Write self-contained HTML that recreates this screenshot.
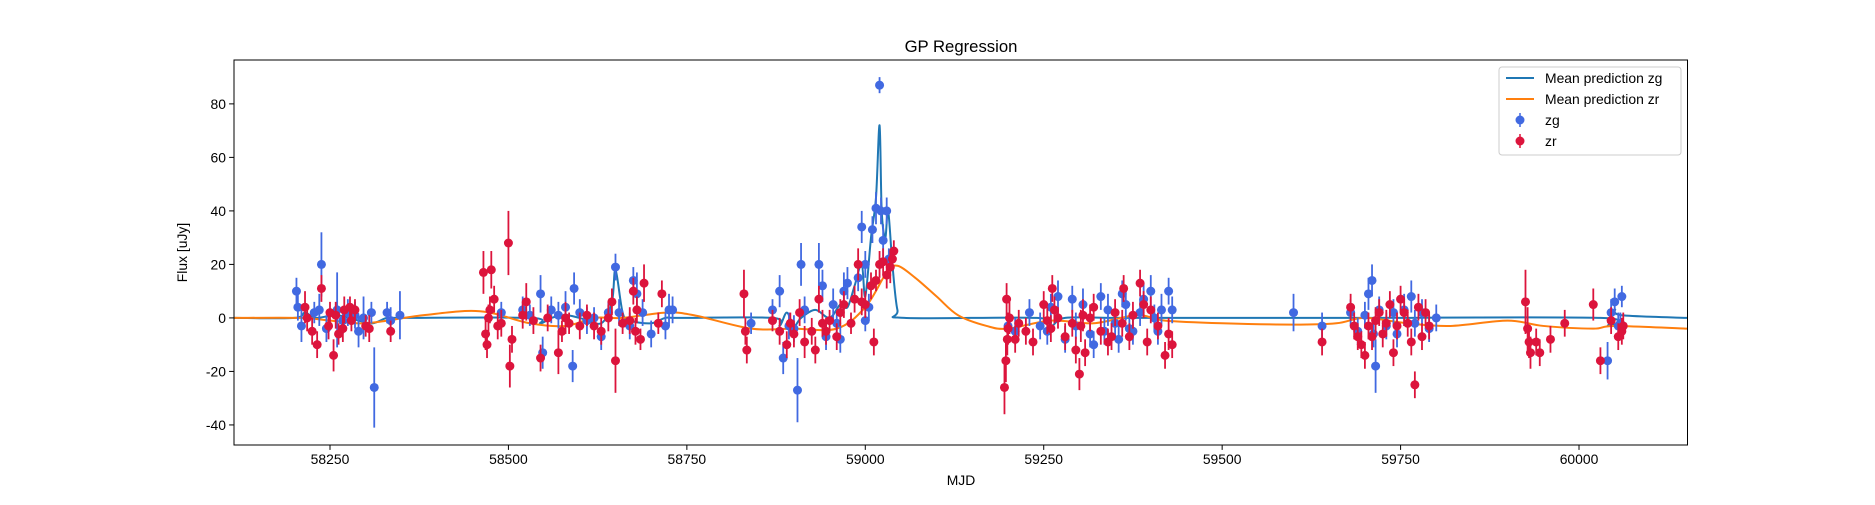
<!DOCTYPE html>
<html><head><meta charset="utf-8"><style>
body{margin:0;background:#fff}
svg text{font-family:"Liberation Sans","DejaVu Sans",sans-serif;fill:#000}
</style></head><body>
<svg id="chart" width="1875" height="500" viewBox="0 0 1875 500" xmlns="http://www.w3.org/2000/svg">
<rect width="1875" height="500" fill="#fff"/>
<text x="961" y="52" font-size="16.7" text-anchor="middle">GP Regression</text>
<g id="plot"></g>
<rect x="234" y="60" width="1453.5" height="385" fill="none" stroke="#000" stroke-width="1"/>
<g id="axes"></g>
<text x="961" y="485" font-size="13.9" text-anchor="middle">MJD</text>
<text transform="translate(187,252.5) rotate(-90)" font-size="13.9" text-anchor="middle">Flux [uJy]</text>
<g>
<rect x="1499" y="67" width="182" height="88" rx="3" fill="#fff" fill-opacity="0.8" stroke="#ccc"/>
<line x1="1506" y1="78" x2="1534" y2="78" stroke="#1f77b4" stroke-width="2"/>
<text x="1545" y="83" font-size="13.9">Mean prediction zg</text>
<line x1="1506" y1="99" x2="1534" y2="99" stroke="#ff7f0e" stroke-width="2"/>
<text x="1545" y="104" font-size="13.9">Mean prediction zr</text>
<line x1="1520" y1="113" x2="1520" y2="127" stroke="#4169e1" stroke-width="1.5"/><circle cx="1520" cy="120" r="4.5" fill="#4169e1"/>
<text x="1545" y="125" font-size="13.9">zg</text>
<line x1="1520" y1="134" x2="1520" y2="148" stroke="#dc143c" stroke-width="1.5"/><circle cx="1520" cy="141" r="4.5" fill="#dc143c"/>
<text x="1545" y="146" font-size="13.9">zr</text>
</g>
</svg>
<script>
const xTicks=[58250,58500,58750,59000,59250,59500,59750,60000];
const yTicks=[-40,-20,0,20,40,60,80];
const zgMjd=[58203,58205,58210,58228,58235,58238,58245,58260,58268,58275,58285,58290,58297,58308,58312,58330,58335,58348,
58490,58520,58530,58545,58548,58560,58570,58580,58590,58592,58600,58610,58620,58630,58640,58650,58655,58670,58675,58680,58688,58700,58720,58725,58730,
58840,58870,58880,58885,58893,58900,58905,58910,58915,58935,58940,58945,58955,58960,58965,58970,58975,58990,58995,59000,59005,59010,59015,59020,59022,59025,59030,59033,59000,
59200,59210,59230,59245,59255,59260,59270,59280,59290,59295,59305,59315,59320,59330,59335,59340,59350,59355,59360,59365,59370,59375,59385,59390,59400,59405,59410,59415,59425,59430,
59600,59640,59680,59690,59700,59705,59710,59712,59715,59720,59730,59740,59745,59755,59765,59770,59780,59790,59800,
60040,60045,60050,60055,60060,60058];
const zgFlux=[10,4,-3,2,3,20,-4,3,-1,2,1,-5,0,2,-26,2,-1,1,
2,3,1,9,-13,3,1,4,-18,11,2,-1,0,-7,2,19,2,-3,14,9,2,-6,-3,3,3,
-2,3,10,-15,-3,-4,-27,20,3,20,12,-7,5,-2,-8,10,13,15,34,20,4,33,41,87,40,29,40,22,-1,
-3,-5,2,-3,-5,4,8,-8,7,-3,5,-6,-10,8,-5,3,-2,-8,9,5,-4,-5,2,7,10,0,-5,3,10,3,
2,-3,2,-5,1,9,14,-6,-18,3,-3,2,-6,3,8,-2,2,-4,0,
-16,2,6,-3,8,-2];
const zgErr=[5,5,6,4,6,12,5,14,5,5,5,6,8,4,15,4,5,9,
4,5,4,7,6,5,5,6,6,6,5,5,4,5,4,5,5,5,5,8,5,5,5,6,5,
4,4,6,6,5,5,12,8,5,8,6,5,6,5,5,7,6,5,6,5,5,5,6,3,5,6,5,4,4,
5,5,5,5,5,5,6,5,5,5,6,5,5,5,5,6,5,5,5,6,5,5,5,6,6,5,5,6,5,5,
7,5,5,5,5,6,6,5,10,5,5,5,5,6,6,5,5,5,5,
7,5,5,5,4,4];
const zrMjd=[58215,58218,58225,58232,58238,58248,58250,58255,58258,58262,58268,58270,58278,58280,58285,58300,58305,58335,
58465,58468,58470,58472,58474,58476,58480,58485,58490,58500,58505,58502,58520,58525,58535,58545,58555,58570,58575,58580,58585,58600,58610,58620,58630,58640,58645,58650,58660,58670,58675,58678,58680,58685,58690,58710,58715,
58830,58832,58834,58870,58880,58890,58895,58900,58908,58915,58925,58930,58935,58940,58945,58950,58960,58965,58970,58980,58985,58990,58995,59000,59008,59012,59015,59020,59025,59030,59035,59040,59038,
59195,59197,59199,59200,59202,59198,59210,59215,59225,59235,59250,59255,59260,59262,59265,59270,59280,59290,59295,59300,59302,59305,59308,59315,59320,59330,59340,59345,59350,59360,59362,59370,59375,59385,59390,59395,59400,59410,59420,59425,59430,
59640,59680,59685,59690,59695,59700,59705,59710,59715,59720,59725,59730,59735,59740,59745,59750,59755,59760,59765,59770,59775,59780,59785,59790,
59925,59928,59930,59932,59940,59945,59960,59980,60020,60030,60045,60055,60060,60062];
const zrFlux=[4,0,-5,-10,11,-3,2,-14,1,-6,-4,3,4,-1,3,-3,-4,-5,
17,-6,-10,0,3,18,7,-3,-2,28,-8,-18,1,6,-1,-15,0,-13,-5,0,-2,-3,1,-3,-5,0,6,-16,-2,-1,10,-5,3,-8,13,-2,9,
9,-5,-12,-1,-5,-10,-2,-6,2,-9,-5,-12,7,-2,-5,-1,-7,2,5,-2,7,20,6,5,12,-9,14,20,21,16,19,25,22,
-26,-16,-8,-4,0,7,-8,-2,-5,-9,5,-1,-4,11,3,0,-7,-2,-12,-21,-3,1,-13,0,4,-5,-9,-7,2,-2,11,-7,1,13,5,-9,3,-3,-14,-6,-10,
-9,4,-3,-7,-10,-14,-3,-7,-1,2,-6,-2,5,-13,-3,7,2,-2,-9,-25,4,-7,2,-3,
6,-4,-9,-13,-9,-13,-8,-2,5,-16,-1,-7,-5,-3];
const zrErr=[6,5,5,5,5,5,4,6,5,4,5,5,4,4,4,4,5,4,
8,6,5,5,5,7,5,5,5,12,5,8,5,7,5,5,5,8,4,6,4,5,4,5,5,5,5,12,4,5,5,5,5,4,7,4,5,
9,5,5,4,5,5,4,5,5,6,5,5,5,5,5,4,5,5,5,4,5,6,5,5,5,5,4,5,5,5,6,4,4,
10,8,6,6,6,6,5,5,5,5,5,5,5,5,5,4,5,5,5,6,6,6,5,5,5,5,5,5,5,5,5,5,5,5,5,5,5,5,5,6,5,
5,5,5,5,5,5,5,5,5,5,5,5,5,5,5,5,5,5,5,5,5,5,5,5,
12,8,6,6,5,5,5,5,6,5,5,5,5,5];
const zgMeanMjd=[58116,58200,58215,58230,58260,58290,58310,58330,58350,58530,58545,58560,58580,58600,58630,58645,58650,58660,58670,58700,58720,58740,58870,58880,58890,58900,58910,58930,58950,58965,58975,58985,58995,59000,59008,59015,59020,59023,59028,59032,59038,59045,59055,59240,59260,59280,59350,59420,59640,59700,60030,60040,60050,60060,60152];
const zgMeanFlux=[0,0,2,0,1,-1,-2,0,0,0,-2,0,1,0,-2,6,18,2,-1,-2,0,0,0,-3,2,-3,0,3,0,5,4,12,20,8,30,45,72,40,30,40,20,3,0,0,-3,0,0,0,0,0,0,-3,3,1,0];
const zrMeanMjd=[58116,58210,58250,58300,58380,58460,58530,58580,58620,58660,58720,58760,58840,58900,58960,59000,59030,59045,59070,59100,59130,59170,59200,59260,59320,59380,59420,59500,59600,59660,59700,59760,59820,59900,59950,60020,60050,60152];
const zrMeanFlux=[0,0,-1,-2,1,2.5,-2,-3,0,0,2,1,-4,-4,-4,4,17,19.5,15,8,1,-3,-4,-1,-2,1,-1,-2,-2.5,-2,0,-2,-3,-1,-3,-4,-3,-4];

const X0=234,X1=1687.5,Y0=445,Y1=60,XMIN=58115.5,XMAX=60152,YMIN=-47.5,YMAX=96.4;
const sx=v=>X0+(v-XMIN)/(XMAX-XMIN)*(X1-X0);
const sy=v=>Y0-(v-YMIN)/(YMAX-YMIN)*(Y0-Y1);
const NS='http://www.w3.org/2000/svg';
const plot=document.getElementById('plot'),axes=document.getElementById('axes');
function mk(t,a,p){const e=document.createElementNS(NS,t);for(const k in a)e.setAttribute(k,a[k]);p.appendChild(e);return e;}
function smooth(xs,ys){let d='M'+sx(xs[0])+','+sy(ys[0]);
 for(let i=0;i<xs.length-1;i++){const p0=[sx(xs[Math.max(i-1,0)]),sy(ys[Math.max(i-1,0)])],p1=[sx(xs[i]),sy(ys[i])],p2=[sx(xs[i+1]),sy(ys[i+1])],p3=[sx(xs[Math.min(i+2,xs.length-1)]),sy(ys[Math.min(i+2,xs.length-1)])];
 const c1=[p1[0]+(p2[0]-p0[0])/6,p1[1]+(p2[1]-p0[1])/6],c2=[p2[0]-(p3[0]-p1[0])/6,p2[1]-(p3[1]-p1[1])/6];
 d+=' C'+c1+' '+c2+' '+p2;}return d;}
xTicks.forEach(t=>{const x=sx(t);
 const l=mk('line',{x1:x,x2:x,y1:Y0,y2:Y0+4.9,stroke:'#000'},axes);
 
 
 const tx=mk('text',{x:x,y:Y0+19,'font-size':'13.9','text-anchor':'middle'},axes);tx.textContent=t;
 
 });
yTicks.forEach(t=>{const y=sy(t);
 const l=mk('line',{x1:X0-4.9,x2:X0,y1:y,y2:y,stroke:'#000'},axes);
 
 
 const tx=mk('text',{x:X0-8,y:y+5,'font-size':'13.9','text-anchor':'end'},axes);tx.textContent=t;
 
 });
const lg=mk('path',{d:smooth(zgMeanMjd,zgMeanFlux),fill:'none',stroke:'#1f77b4','stroke-width':2},plot);


const lr=mk('path',{d:smooth(zrMeanMjd,zrMeanFlux),fill:'none',stroke:'#ff7f0e','stroke-width':2},plot);


function pts(xs,ys,es,col,name){const g=mk('g',{},plot);
 
 
 xs.forEach((m,i)=>{const x=sx(m);
  const b=mk('line',{x1:x,x2:x,y1:sy(ys[i]-es[i]),y2:sy(ys[i]+es[i]),stroke:col,'stroke-width':1.8},g);
  
  
  const c=mk('circle',{cx:x,cy:sy(ys[i]),r:4.5,fill:col},g);
  
  });}
pts(zgMjd,zgFlux,zgErr,'#4169e1','zg');
pts(zrMjd,zrFlux,zrErr,'#dc143c','zr');
</script>
</body></html>
